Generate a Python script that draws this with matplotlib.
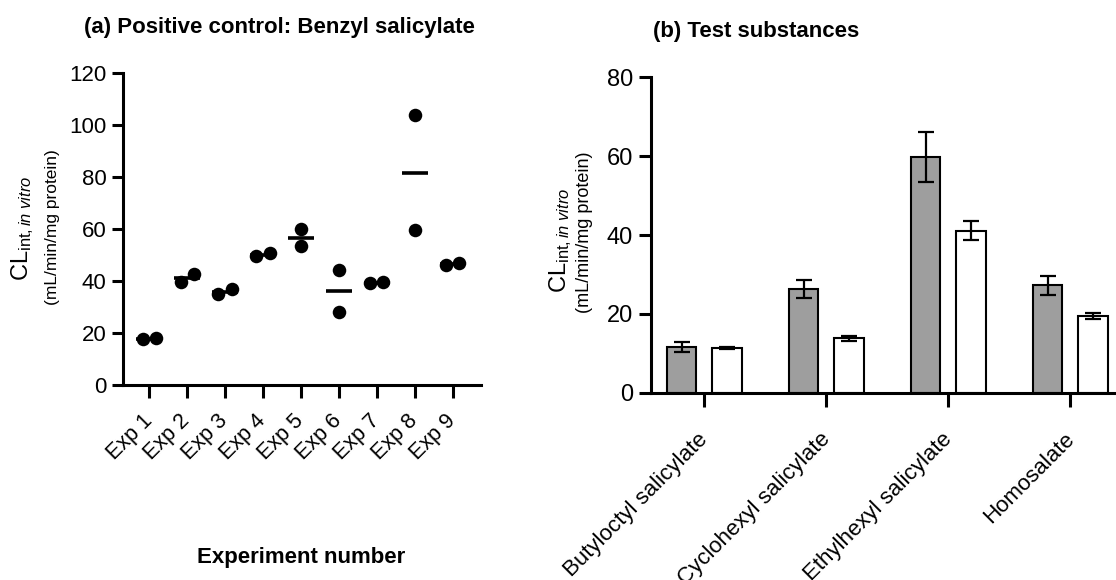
import numpy as np
import matplotlib
matplotlib.use('Agg')
import matplotlib.pyplot as plt
from matplotlib.transforms import ScaledTranslation

plt.rcParams['font.family'] = ['Liberation Sans', 'DejaVu Sans']
plt.rcParams['mathtext.fontset'] = 'custom'
plt.rcParams['mathtext.rm'] = 'Liberation Sans'
plt.rcParams['mathtext.it'] = 'Liberation Sans:italic'

# (a) positive control, two replicates per experiment
exp_labels = ['Exp 1', 'Exp 2', 'Exp 3', 'Exp 4', 'Exp 5', 'Exp 6', 'Exp 7', 'Exp 8', 'Exp 9']
rep1 = [17.6, 39.7, 34.9, 49.6, 59.9, 44.2, 39.1, 103.8, 46.2]
rep2 = [18.0, 42.6, 36.9, 50.6, 53.5, 28.2, 39.7, 59.6, 46.8]

# (b) test substances, mean +- error for two conditions
substances = ['Butyloctyl salicylate', 'Cyclohexyl salicylate', 'Ethylhexyl salicylate', 'Homosalate']
grey_mean = [11.5, 26.3, 59.8, 27.2]
grey_err = [1.3, 2.4, 6.4, 2.3]
white_mean = [11.4, 13.8, 41.1, 19.5]
white_err = [0.3, 0.7, 2.4, 0.8]

W, H = 1116, 580
fig = plt.figure(figsize=(W / 100, H / 100), dpi=100)

def box(x0, x1, ytop, ybot):
    return [x0 / W, 1 - ybot / H, (x1 - x0) / W, (ybot - ytop) / H]

axa = fig.add_axes(box(123.3, 481, 73, 385))
axb = fig.add_axes(box(651, 1116, 77.3, 392.7))

for ax in (axa, axb):
    ax.spines['top'].set_visible(False)
    ax.spines['right'].set_visible(False)
    for s in ('left', 'bottom'):
        ax.spines[s].set_linewidth(2.2)
    ax.tick_params(width=2.2, color='black')

# ---- panel a
x = np.arange(1, 10)
r1 = np.array(rep1)
r2 = np.array(rep2)
means = (r1 + r2) / 2
close = np.abs(r1 - r2) < 5  # overlapping points get spread sideways
off = np.where(close, 0.175, 0.0)
axa.hlines(means, x - 0.34, x + 0.34, color='black', lw=2.6, zorder=2)
axa.scatter(np.concatenate([x - off, x + off]), np.concatenate([r1, r2]),
            s=95, color='black', zorder=3, linewidths=0)
axa.set_xlim(0.314, 9.75)
axa.set_ylim(0, 120)
axa.set_yticks(np.arange(0, 121, 20))
axa.set_xticks(x)
axa.set_xticklabels(exp_labels, rotation=45, ha='right', va='top')
axa.tick_params(axis='y', length=8, labelsize=16, pad=4)
axa.tick_params(axis='x', length=9, labelsize=15.5, pad=9)
shift = ScaledTranslation(7 / 100, 0, fig.dpi_scale_trans)
for lab in axa.get_xticklabels():
    lab.set_transform(lab.get_transform() + shift)

# ---- panel b
xb = np.arange(len(substances))
bw = 0.242
axb.bar(xb - 0.185, grey_mean, bw, color='#9e9e9e', edgecolor='black', lw=1.5, zorder=2)
axb.bar(xb + 0.185, white_mean, bw, color='white', edgecolor='black', lw=1.5, zorder=2)
axb.errorbar(xb - 0.185, grey_mean, yerr=grey_err, fmt='none', ecolor='black',
             elinewidth=1.6, capsize=5.5, capthick=1.6, zorder=3)
axb.errorbar(xb + 0.185, white_mean, yerr=white_err, fmt='none', ecolor='black',
             elinewidth=1.6, capsize=5.5, capthick=1.6, zorder=3)
axb.set_xlim(-0.437, 3.375)
axb.set_ylim(0, 80)
axb.set_yticks(np.arange(0, 81, 20))
axb.set_xticks(xb)
axb.set_xticklabels(substances, rotation=45, ha='right', va='top')
axb.tick_params(axis='y', length=9, labelsize=17, pad=4)
axb.tick_params(axis='x', length=10, labelsize=16, pad=16)
shift_b = ScaledTranslation(8 / 100, 0, fig.dpi_scale_trans)
for lab in axb.get_xticklabels():
    lab.set_transform(lab.get_transform() + shift_b)

# ---- labels
ylab = r'CL$_{\mathrm{int,}\mathit{in\ vitro}}$'
fig.text(23 / W, 1 - 228.5 / H, ylab, rotation=90, ha='center', va='center', fontsize=17)
fig.text(52.5 / W, 1 - 227 / H, '(mL/min/mg protein)', rotation=90, ha='center', va='center', fontsize=12.5)
fig.text(561 / W, 1 - 240 / H, ylab, rotation=90, ha='center', va='center', fontsize=17)
fig.text(584.5 / W, 1 - 232 / H, '(mL/min/mg protein)', rotation=90, ha='center', va='center', fontsize=13)

fig.text(279.5 / W, 1 - 27 / H, '(a) Positive control: Benzyl salicylate',
         ha='center', va='center', fontsize=16, fontweight='bold')
fig.text(756 / W, 1 - 32 / H, '(b) Test substances',
         ha='center', va='center', fontsize=16, fontweight='bold')
fig.text(301 / W, 1 - 558 / H, 'Experiment number',
         ha='center', va='center', fontsize=16, fontweight='bold')

fig.savefig('out.png', dpi=100)
